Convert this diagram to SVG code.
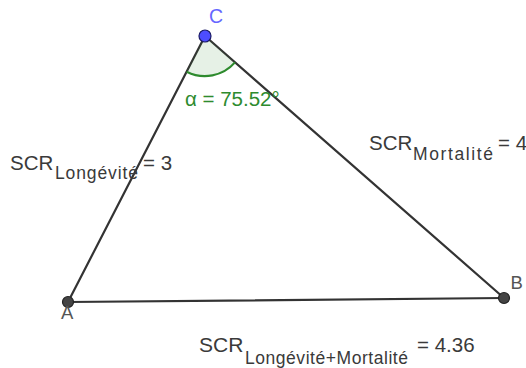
<svg xmlns="http://www.w3.org/2000/svg" width="526" height="368" viewBox="0 0 526 368">
<style>
.seg{stroke:#333;stroke-width:2.2;fill:none;stroke-linecap:round}
.lbl{font-family:"Liberation Sans",Arial,sans-serif;fill:#3a3a3a}
.main{font-size:20.5px}
.sub{font-size:17.5px}
.pt{stroke:#222;stroke-width:1.2}
.ptl{font-family:"Liberation Sans",Arial,sans-serif;fill:#555;font-size:18.5px}
</style>
<rect width="526" height="368" fill="#fff"/>
<g id="connectors">
<line class="seg" x1="68" y1="302" x2="205" y2="36"/>
<line class="seg" x1="205" y1="36" x2="504" y2="298"/>
<line class="seg" x1="68" y1="302" x2="504" y2="298"/>
</g>
<g id="angle">
<path d="M205 36 L186.7 71.7 A40 40 0 0 0 235 62.4 Z" fill="#2e8b2e" fill-opacity="0.12" stroke="none"/>
<path d="M186.7 71.7 A40 40 0 0 0 235 62.4" fill="none" stroke="#2e8b2e" stroke-width="2.2"/>
<text x="185" y="105.5" font-family="Liberation Sans,Arial,sans-serif" font-size="20.5" fill="#2e8b2e">α = 75.52°</text>
</g>
<g id="A">
<circle class="pt" cx="68" cy="302" r="5.5" fill="#444"/>
<text class="ptl" x="61" y="318.5">A</text>
</g>
<g id="B">
<circle class="pt" cx="504" cy="298" r="5.5" fill="#444"/>
<text class="ptl" x="510.5" y="288.5">B</text>
</g>
<g id="C">
<circle cx="205" cy="36" r="6" fill="#4d4dff" stroke="#1a1a66" stroke-width="1.2"/>
<text x="209" y="22.5" font-family="Liberation Sans,Arial,sans-serif" font-size="19.5" fill="#6666ff">C</text>
</g>
<g id="label-longevite">
<text class="lbl main" x="10" y="170">SCR</text>
<text class="lbl sub" x="55" y="178.5" textLength="83" lengthAdjust="spacing">Longévité</text>
<text class="lbl main" x="143" y="170">= 3</text>
</g>
<g id="label-mortalite">
<text class="lbl main" x="369" y="150">SCR</text>
<text class="lbl sub" x="413" y="160" textLength="80" lengthAdjust="spacing">Mortalité</text>
<text class="lbl main" x="498" y="150">= 4</text>
</g>
<g id="label-total">
<text class="lbl" x="199" y="352" font-size="21">SCR</text>
<text class="lbl sub" x="245" y="363.5" textLength="163" lengthAdjust="spacing">Longévité+Mortalité</text>
<text class="lbl" x="417" y="352" font-size="20.5">= 4.36</text>
</g>
</svg>
